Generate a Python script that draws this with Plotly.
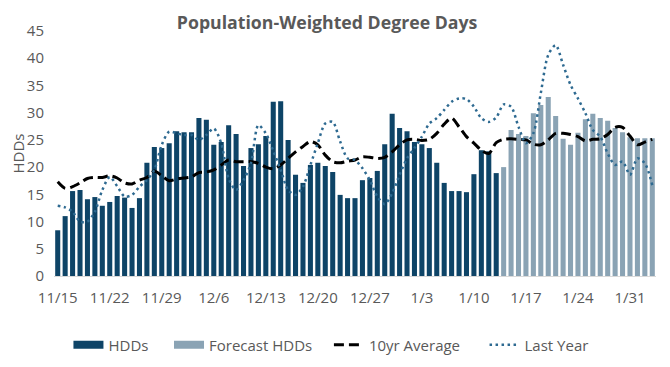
import pandas as pd
import plotly.graph_objects as go

dates = [d.strftime("%-m/%-d") for d in pd.date_range("2021-11-15", "2022-02-03", freq="D")]

hdds = [8.4, 11.0, 15.6, 15.8, 14.1, 14.5, 12.9, 13.6, 14.7, 14.4,
        12.5, 14.3, 20.8, 23.7, 23.5, 24.4, 26.6, 26.4, 26.4, 29.0,
        28.7, 24.1, 24.6, 27.7, 26.1, 20.2, 23.5, 24.2, 25.7, 32.0,
        32.1, 25.0, 18.6, 17.1, 20.4, 20.8, 20.2, 19.1, 14.9, 14.3,
        14.3, 17.6, 18.0, 19.3, 24.2, 29.8, 27.2, 26.6, 24.6, 24.2,
        23.5, 20.8, 17.1, 15.6, 15.6, 15.4, 18.7, 23.1, 22.9, 18.9]

forecast = [20.0, 26.8, 26.1, 25.7, 29.9, 31.4, 32.9, 29.4, 25.2, 24.1,
            26.3, 28.8, 29.8, 29.0, 28.5, 27.2, 26.4, 25.5, 25.3, 25.3, 25.3]

avg10 = [17.3, 16.1, 16.4, 17.1, 17.9, 18.1, 18.1, 18.4, 18.0, 17.1,
         16.9, 17.6, 18.1, 19.3, 18.4, 17.5, 17.8, 18.0, 18.2, 19.0,
         19.1, 19.5, 20.4, 21.3, 21.0, 21.0, 21.0, 20.7, 20.0, 19.7,
         20.4, 21.6, 22.8, 23.8, 24.7, 24.1, 22.2, 21.0, 20.8, 21.1,
         21.3, 21.9, 21.8, 21.6, 21.8, 22.8, 24.1, 25.0, 25.1, 24.9,
         25.1, 26.2, 27.9, 29.0, 27.4, 25.6, 24.4, 23.1, 22.5, 24.5,
         25.1, 25.2, 25.1, 25.0, 24.2, 24.1, 25.0, 26.2, 26.2, 26.0,
         25.6, 24.8, 25.1, 25.2, 26.0, 27.3, 27.3, 25.7, 24.1, 24.6, 25.1]

last_year = [12.9, 12.6, 11.8, 10.0, 10.0, 11.8, 15.8, 18.2, 16.5, 14.6,
             14.9, 16.4, 17.6, 19.5, 24.1, 26.5, 26.2, 25.9, 25.9, 25.0,
             25.9, 27.1, 24.4, 17.9, 15.8, 17.6, 20.7, 27.7, 26.2, 23.0,
             19.5, 15.8, 14.9, 16.4, 20.4, 24.4, 28.0, 28.3, 24.7, 21.6,
             21.3, 19.8, 17.6, 14.6, 13.2, 15.2, 18.6, 21.6, 23.5, 25.6,
             28.0, 29.0, 30.5, 32.0, 32.6, 32.5, 31.1, 29.0, 28.3, 29.1,
             31.5, 31.1, 27.4, 24.4, 26.2, 33.6, 40.6, 42.4, 38.8, 35.1,
             32.6, 29.9, 26.8, 25.6, 22.5, 20.4, 21.0, 18.6, 21.6, 20.7, 16.7]

tick_labels = ["11/15", "11/22", "11/29", "12/6", "12/13", "12/20", "12/27",
               "1/3", "1/10", "1/17", "1/24", "1/31"]
y_ticks = [0, 5, 10, 15, 20, 25, 30, 35, 40, 45]

FONT = "Open Sans"
GRAY = "#595959"
DARK = "#0E4467"
LIGHT = "#8AA3B4"
DOTC = "#2E6A91"
NB = "\u00a0"

fig = go.Figure()
fig.add_trace(go.Bar(x=dates[:len(hdds)], y=hdds, name="HDDs", showlegend=False,
                     marker=dict(color=DARK, line=dict(width=0))))
fig.add_trace(go.Bar(x=dates[len(hdds):], y=forecast, name="Forecast HDDs",
                     showlegend=False, marker=dict(color=LIGHT, line=dict(width=0))))
fig.add_trace(go.Scatter(x=dates, y=avg10, name="10yr Average", mode="lines",
                         showlegend=False,
                         line=dict(color="black", width=3, dash="10px,5px",
                                   shape="spline", smoothing=0.8)))
fig.add_trace(go.Scatter(x=dates, y=last_year, name="Last Year", mode="lines",
                         showlegend=False,
                         line=dict(color=DOTC, width=2.5, dash="2.5px,3.5px",
                                   shape="spline", smoothing=0.8)))

# legend entries (wide swatches like the reference)
for nm, col, w, dsh in [("HDDs" + NB * 4, DARK, 8, "solid"),
                        ("Forecast HDDs" + NB * 3, LIGHT, 8, "solid"),
                        ("10yr Average" + NB * 5, "black", 3, "10px,5px"),
                        ("Last Year", DOTC, 2.5, "2.5px,3.5px")]:
    fig.add_trace(go.Scatter(x=[None], y=[None], mode="lines", name=nm,
                             line=dict(color=col, width=w, dash=dsh)))

# the page body has an 8px margin, so the figure is 8px smaller each way
fig.update_layout(
    width=662, height=359,
    margin=dict(l=46, r=14, t=23, b=91, autoexpand=False),
    paper_bgcolor="white", plot_bgcolor="white",
    barmode="overlay", bargap=0.32,
    font=dict(family=FONT, color=GRAY, size=15),
    title=dict(text="<b>Population-Weighted Degree Days</b>",
               x=0.482, xanchor="center", y=0.958, yanchor="middle",
               font=dict(family=FONT, size=17.7, color=GRAY)),
    showlegend=True,
    legend=dict(orientation="h", x=0.024, xanchor="left", y=-0.282, yanchor="middle",
                font=dict(family=FONT, size=15, color=GRAY),
                traceorder="normal", bgcolor="rgba(0,0,0,0)"),
    xaxis=dict(type="category", categoryorder="array", categoryarray=dates,
               tickmode="array", tickvals=tick_labels, ticktext=tick_labels,
               tickangle=0, showgrid=False, showline=True, linecolor="#D9D9D9",
               linewidth=1, ticks="", ticklen=0, automargin=False,
               ticklabelstandoff=8,
               tickfont=dict(family=FONT, size=15, color=GRAY),
               range=[-0.5, len(dates) - 0.5]),
    yaxis=dict(range=[0, 45], tickvals=y_ticks, showgrid=False, zeroline=False,
               showline=False, ticks="", automargin=False,
               ticklabelstandoff=9,
               tickfont=dict(family=FONT, size=15, color=GRAY),
               title=dict(text="HDDs", standoff=21,
                          font=dict(family=FONT, size=15, color=GRAY))),
)

fig.write_html("out.html")
